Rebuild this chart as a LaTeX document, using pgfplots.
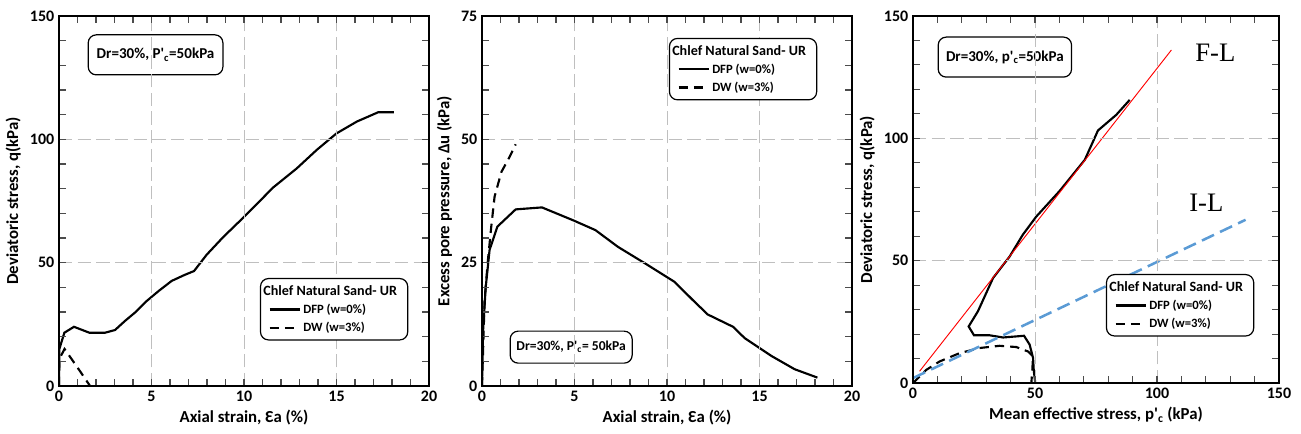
\documentclass[border=0pt]{standalone}
\usepackage{fontspec}
\setmainfont{Carlito}
\newfontfamily\serifFL{Liberation Serif}
\usepackage{pgfplots}
\pgfplotsset{compat=1.18}

\definecolor{ilblue}{RGB}{91,155,213}

\tikzset{drbox/.style={draw, line width=0.9pt, rounded corners=6pt}}

\pgfplotsset{
  panel/.style={
    scale only axis,
    width=277.5pt, height=277.5pt,
    anchor=south west,
    axis on top,
    axis line style={line width=1.5pt},
    tick style={line width=0.8pt, black!70},
    major tick length=5pt, minor tick length=5pt,
    tick align=inside,
    xtick pos=both, ytick pos=both,
    xticklabel pos=lower, yticklabel pos=left,
    grid=major,
    major grid style={black!25, line width=0.6pt, dash pattern=on 10pt off 4pt},
    /pgf/number format/assume math mode=true,
    ticklabel style={font=\bfseries\fontsize{12}{13}\selectfont},
    label style={font=\bfseries\fontsize{12.6}{14}\selectfont},
    legend image code/.code={\draw[##1, line width=1.6pt] (0pt,0pt) -- (22.5pt,0pt);},
    legend cell align=left,
    legend style={draw=black, line width=0.9pt, rounded corners=6pt,
      anchor=north west, font=\bfseries\fontsize{9.5}{11}\selectfont,
      row sep=1pt, inner xsep=6pt, inner ysep=3pt},
  },
  dfp/.style={black, solid, no marks, line width=1.6pt},
  dw/.style={black, no marks, line width=1.6pt, dash pattern=on 7pt off 4.5pt},
}

\newcommand{\legtitle}{\addlegendimage{empty legend}
  \addlegendentry{\hspace{-30pt}\fontsize{10.6}{12}\selectfont Chlef Natural Sand- UR}}

\begin{document}
\begin{tikzpicture}
\path[use as bounding box] (0,0) rectangle (975.75pt,325.5pt);

% panel 1: q vs axial strain
\begin{axis}[panel, at={(44.25pt,36pt)},
  xmin=0, xmax=20, ymin=0, ymax=150,
  xtick={0,5,...,20}, ytick={0,50,100,150},
  minor x tick num=4, minor y tick num=4,
  xlabel={Axial strain, Ɛa (\%)},
  ylabel={Deviatoric stress, q(kPa)},
  legend style={at={(0.543,0.292)}}]
\legtitle
\addplot[dfp] coordinates {(0,0) (0.02,15) (0.29,21.6) (0.81,24) (1.64,21.6) (2.49,21.6)
  (3.03,22.7) (3.57,26.4) (4.16,30.1) (4.7,34.2) (5.4,38.6) (6.09,42.6) (6.78,45)
  (7.3,46.6) (7.98,53.2) (8.88,60.4) (10.05,68.9) (11.58,80.5) (12.85,88.2)
  (13.93,95.7) (15,102.4) (16.1,107.2) (17.26,111) (18.1,111)};
\addlegendentry{DFP (w=0\%)}
\addplot[dw] coordinates {(0,0) (0.02,11) (0.3,15) (1.0,7.5) (1.68,0)};
\addlegendentry{DW (w=3\%)}
\node[drbox, minimum width=101pt, minimum height=30pt,
  font=\bfseries\fontsize{11.3}{13}\selectfont] at (rel axis cs:0.261,0.895)
  {Dr=30\%, P\textquotesingle\textsubscript{c}=50kPa};
\end{axis}

% panel 2: excess pore pressure
\begin{axis}[panel, at={(361.5pt,36pt)},
  xmin=0, xmax=20, ymin=0, ymax=75,
  xtick={0,5,...,20}, ytick={0,25,50,75},
  minor x tick num=4, minor y tick num=4,
  xlabel={Axial strain, Ɛa (\%)},
  ylabel={Excess pore pressure, Δu (kPa)},
  legend style={at={(0.505,0.941)}}]
\legtitle
\addplot[dfp] coordinates {(0,0) (0.05,10.7) (0.2,20) (0.41,27.6) (0.83,32.3) (1.82,35.8)
  (3.24,36.2) (4.92,33.6) (6.13,31.6) (7.35,28.2) (8.88,24.7) (10.41,21.1)
  (11.4,17.4) (12.2,14.5) (13.57,12) (14.2,9.7) (15.64,6.1) (16.9,3.4) (18.13,1.7)};
\addlegendentry{DFP (w=0\%)}
\addplot[dw] coordinates {(0,0) (0.14,17.4) (0.32,25.5) (0.5,32.3) (0.68,38.4)
  (1.05,43.4) (1.5,46.5) (1.82,49)};
\addlegendentry{DW (w=3\%)}
\node[drbox, minimum width=91.5pt, minimum height=24pt,
  font=\bfseries\fontsize{10.2}{12}\selectfont] at (rel axis cs:0.241,0.105)
  {Dr=30\%, P\textquotesingle\textsubscript{c}= 50kPa};
\end{axis}

% panel 3: stress path
\begin{axis}[panel, at={(684.75pt,38.25pt)}, width=274.5pt, height=275.25pt,
  xmin=0, xmax=150, ymin=0, ymax=150,
  xtick={0,50,100,150}, ytick={0,50,100,150},
  minor x tick num=4, minor y tick num=4,
  xlabel={Mean effective stress, p\textquotesingle\textsubscript{c} (kPa)},
  ylabel={Deviatoric stress, q(kPa)},
  legend style={at={(0.527,0.297)}}]
\legtitle
\addplot[dfp] coordinates {(50.1,0) (49.5,5) (49.2,10.2) (47.8,15.7) (45.5,19.3) (36.9,18.6)
  (31.4,19.5) (25,19.5) (22.8,23.1) (26.6,29.3) (32.8,42.9) (39.6,51.7) (45,60.6)
  (50.5,68) (60.1,78.5) (70.4,91.2) (75.8,103.2) (83.3,109.6) (88.8,115.7)};
\addlegendentry{DFP (w=0\%)}
\addplot[dw] coordinates {(0,0) (5.5,5.4) (10.9,8.8) (19.1,12.2) (27.3,14.3) (35.5,15.2)
  (42.3,14.7) (47.1,12.9) (49.2,10.9) (48.9,5.4) (48.5,0)};
\addlegendentry{DW (w=3\%)}
\addplot[forget plot, red, no marks, line width=0.7pt] coordinates {(2.7,4.8) (105.9,136.1)};
\addplot[forget plot, ilblue, no marks, line width=1.9pt, dash pattern=on 10pt off 5pt]
  coordinates {(0,2) (136.3,66.7)};
\node[drbox, minimum width=100pt, minimum height=30pt,
  font=\bfseries\fontsize{11.3}{13}\selectfont] at (rel axis cs:0.251,0.888)
  {Dr=30\%, p\textquotesingle\textsubscript{c}=50kPa};
\node[font=\serifFL\fontsize{20}{22}\selectfont] at (axis cs:123.9,135) {F-L};
\node[font=\serifFL\fontsize{20}{22}\selectfont] at (axis cs:120.2,73.5) {I-L};
\end{axis}
\end{tikzpicture}
\end{document}
